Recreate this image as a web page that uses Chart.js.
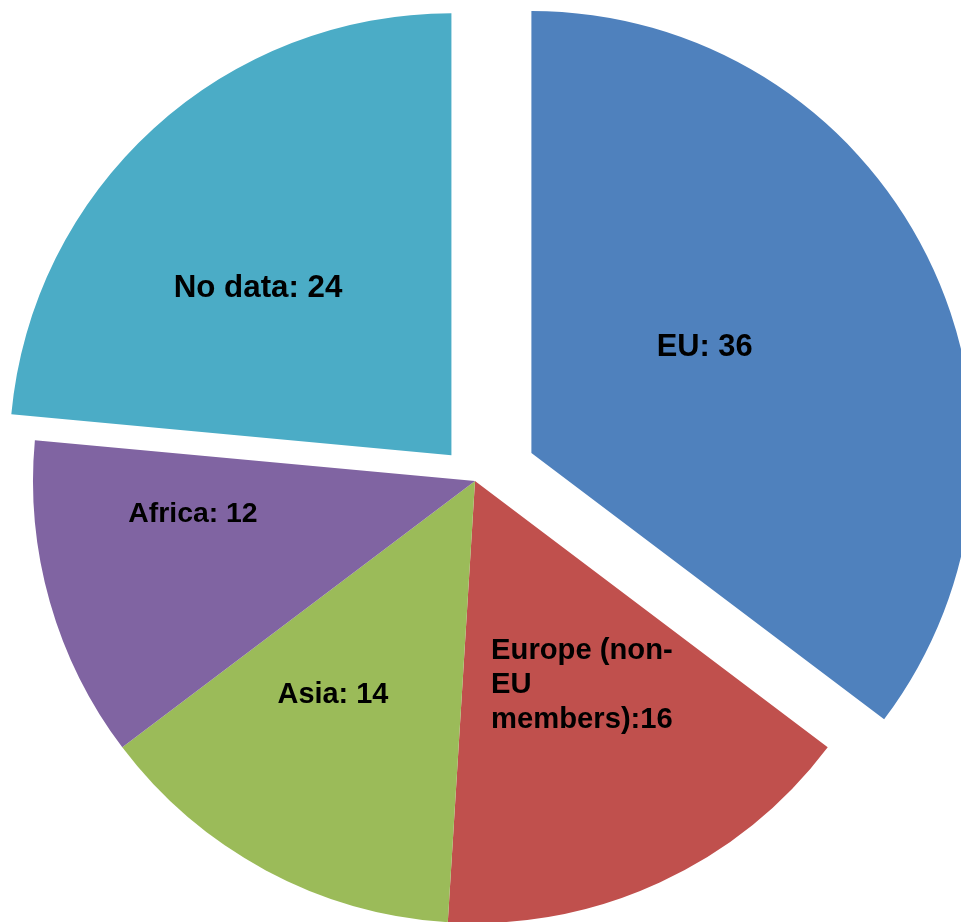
<!DOCTYPE html>
<html>
<head>
<meta charset="utf-8">
<title>Origin breakdown</title>
<script src="https://cdn.jsdelivr.net/npm/chart.js@4/dist/chart.umd.min.js"></script>
<style>
  html, body { margin: 0; padding: 0; background: #ffffff; }
  #wrap { width: 961px; height: 922px; position: relative; }
</style>
</head>
<body>
<div id="wrap"><canvas id="pie"></canvas></div>
<script>
// Slices, clockwise from 12 o'clock
const categories = ['EU', 'Europe (non-EU members)', 'Asia', 'Africa', 'No data'];
const values = [36, 16, 14, 12, 24];
// Label text per slice; {v} is replaced by the slice value
const labelLines = [
  ['EU: {v}'],
  ['Europe (non-', 'EU', 'members):{v}'],
  ['Asia: {v}'],
  ['Africa: {v}'],
  ['No data: {v}']
];

const colors = ['#4F81BD', '#C0504D', '#9BBB59', '#8064A2', '#4BACC6'];
// How far (px) each slice is pulled out of the pie along its bisector
const explodePx = [63, 0, 0, 0, 35];
// Label anchor: fraction of radius and angular nudge (degrees) from the slice bisector
const labelPlace = [
  { r: 0.462, da: -5.5, align: 'center', size: 30.8 },
  { r: 0.517, da: -3.2, align: 'left', size: 29.2 },
  { r: 0.577, da: 5.6, align: 'center', size: 28.9 },
  { r: 0.642, da: 9.6, align: 'center', size: 28.4 },
  { r: 0.581, da: -6.5, align: 'center', size: 31.3 }
];
const LINE_H = 34.5;

// Pull exploded slices out as a rigid shift (keeps the radius unchanged)
const explodeSlices = {
  id: 'explodeSlices',
  afterDatasetUpdate(chart, args) {
    const meta = chart.getDatasetMeta(args.index);
    meta.data.forEach((arc, i) => {
      const d = explodePx[i] || 0;
      if (!d) return;
      const mid = (arc.startAngle + arc.endAngle) / 2;
      arc.x += Math.cos(mid) * d;
      arc.y += Math.sin(mid) * d;
    });
  }
};

const sliceLabels = {
  id: 'sliceLabels',
  afterDatasetsDraw(chart) {
    const ctx = chart.ctx;
    const meta = chart.getDatasetMeta(0);
    ctx.save();
    ctx.fillStyle = '#000000';
    ctx.textBaseline = 'alphabetic';
    meta.data.forEach((arc, i) => {
      const p = arc.getProps(['x', 'y', 'startAngle', 'endAngle', 'outerRadius'], true);
      const mid = (p.startAngle + p.endAngle) / 2;
      const place = labelPlace[i];
      ctx.font = 'bold ' + place.size + 'px "Liberation Sans", Arial, sans-serif';
      const a = mid + place.da * Math.PI / 180;
      const cx = p.x + Math.cos(a) * place.r * p.outerRadius;
      const cy = p.y + Math.sin(a) * place.r * p.outerRadius;
      const lines = labelLines[i].map(s => s.replace('{v}', String(values[i])));
      const maxW = Math.max(...lines.map(s => ctx.measureText(s).width));
      const capH = place.size * 0.716;
      const top = cy - (lines.length - 1) * LINE_H / 2;
      lines.forEach((s, k) => {
        const base = top + k * LINE_H + capH / 2;
        if (place.align === 'left') {
          ctx.textAlign = 'left';
          ctx.fillText(s, cx - maxW / 2, base);
        } else {
          ctx.textAlign = 'center';
          ctx.fillText(s, cx, base);
        }
      });
    });
    ctx.restore();
  }
};

new Chart(document.getElementById('pie'), {
  type: 'pie',
  data: {
    labels: categories,
    datasets: [{
      data: values,
      backgroundColor: colors,
      borderWidth: 0,
      offset: 0,
      hoverOffset: 0,
      clip: false
    }]
  },
  options: {
    responsive: true,
    maintainAspectRatio: false,
    animation: false,
    events: [],
    radius: 442,
    layout: { padding: { left: 0, right: 11, top: 40, bottom: 0 } },
    plugins: {
      legend: { display: false },
      tooltip: { enabled: false }
    }
  },
  plugins: [explodeSlices, sliceLabels]
});
</script>
</body>
</html>
